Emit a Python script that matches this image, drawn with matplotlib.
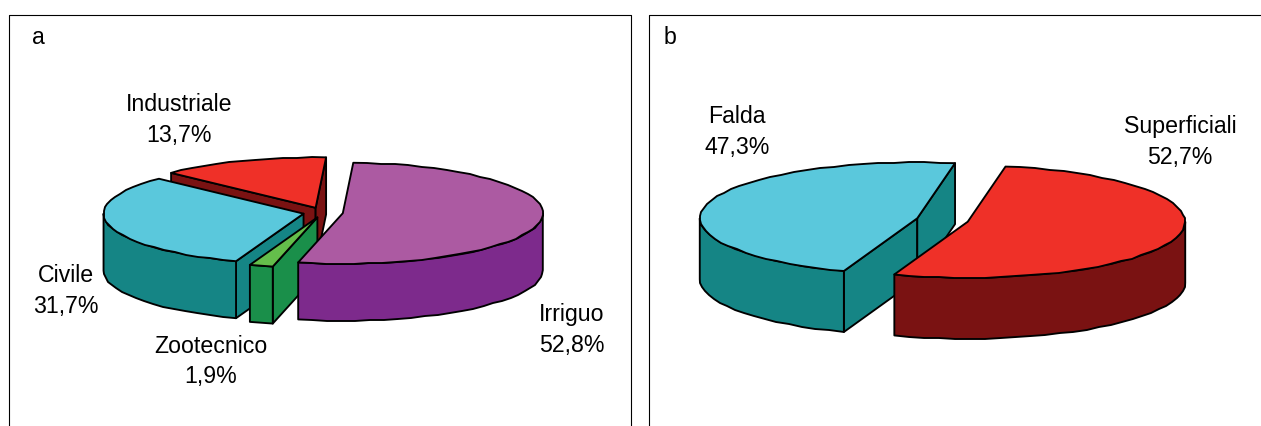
import numpy as np
import matplotlib
matplotlib.use('Agg')
import matplotlib.pyplot as plt
from matplotlib.patches import Polygon

plt.rcParams['font.family'] = ['Liberation Sans', 'DejaVu Sans']

# pannello a
names_a = ['Irriguo', 'Zootecnico', 'Civile', 'Industriale']
values_a = [52.8, 1.9, 31.7, 13.7]
tops_a = ['#ac5aa2', '#64be4b', '#5ac8dc', '#ef3028']
sides_a = ['#7d2a8c', '#1a8f4a', '#158585', '#7a1212']
order_a = [3, 2, 1, 0]
labels_a = [(572, 330), (211, 361.5), (66, 291), (179, 120)]

# pannello b
names_b = ['Superficiali', 'Falda']
values_b = [52.7, 47.3]
tops_b = ['#ef3028', '#5ac8dc']
sides_b = ['#7a1212', '#158585']
order_b = [1, 0]
labels_b = [(1180, 142), (737, 132)]

LW = 1.35


def arc(cx, cy, rx, ry, a0, a1):
    # angles clockwise from 12 o'clock, in degrees
    n = max(int(abs(a1 - a0) / 4), 1) + 1
    t = np.radians(np.linspace(a0, a1, n))
    p = np.column_stack([cx + rx * np.sin(t), cy - ry * np.cos(t)])
    # bordo leggermente a scalini come nell'originale
    p[1:-1] = np.round(p[1:-1])
    return p


def wall(ax, cx, cy, rx, ry, depth, ang, color):
    p = arc(cx, cy, rx, ry, ang, ang)[0]
    ax.add_patch(Polygon([(cx, cy), p, (p[0], p[1] + depth), (cx, cy + depth)],
                         fc=color, ec='black', lw=LW, joinstyle='round'))


def pie3d(ax, values, tops, sides, order, names, label_pos, cx, cy, rx, ry, depth, start, explode):
    total = sum(values)
    angles = start + np.cumsum([0] + [v * 360 / total for v in values])
    for i in order:
        a0, a1 = angles[i], angles[i + 1]
        mid = np.radians((a0 + a1) / 2)
        x = cx + explode * rx * np.sin(mid)
        y = cy - explode * ry * np.cos(mid)
        if np.sin(np.radians(a0)) < 0:
            wall(ax, x, y, rx, ry, depth, a0, sides[i])
        if np.sin(np.radians(a1)) > 0:
            wall(ax, x, y, rx, ry, depth, a1, sides[i])
        lo, hi = max(a0, 90), min(a1, 270)
        if hi > lo:
            edge = arc(x, y, rx, ry, lo, hi)
            low = edge[::-1] + [0, depth]
            ax.add_patch(Polygon(np.vstack([edge, low]), fc=sides[i], ec='black',
                                 lw=LW, joinstyle='round'))
        top = np.vstack([[(x, y)], arc(x, y, rx, ry, a0, a1)])
        ax.add_patch(Polygon(top, fc=tops[i], ec='black', lw=LW, joinstyle='round'))
    for n, v, pos in zip(names, values, label_pos):
        txt = n + '\n' + f'{v:.1f}%'.replace('.', ',')
        ax.text(pos[0], pos[1], txt, ha='center', va='center', fontsize=16.7,
                color='black', linespacing=1.42)


fig = plt.figure(figsize=(12.61, 4.27), dpi=100)
ax = fig.add_axes([0, 0, 1, 1])
ax.set_xlim(0, 1261)
ax.set_ylim(427, 0)
ax.axis('off')

# cornici
ax.plot([9, 9, 631, 631], [440, 15.5, 15.5, 440], color='black', lw=0.8)
ax.plot([648.5, 648.5, 1270], [440, 15.5, 15.5], color='black', lw=0.8)

pie3d(ax, values_a, tops_a, sides_a, order_a, names_a, labels_a,
      323, 213.5, 200, 50.5, 57, 3, 0.1)
pie3d(ax, values_b, tops_b, sides_b, order_b, names_b, labels_b,
      942.5, 221, 217.5, 56, 61, 10, 0.12)

ax.text(38, 38, 'a', ha='center', va='center', fontsize=16.7)
ax.text(670, 38, 'b', ha='center', va='center', fontsize=16.7)

fig.savefig('out.png', dpi=100)
